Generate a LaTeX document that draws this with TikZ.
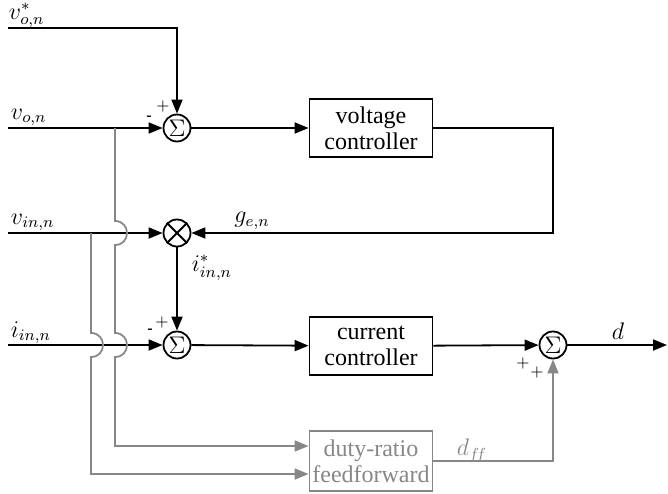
\documentclass[tikz,border=0pt]{standalone}
\usepackage{fontspec}
\setmainfont{Liberation Serif}
\usetikzlibrary{arrows.meta,calc}
\definecolor{ffgray}{RGB}{135,135,135}
\begin{document}
\begin{tikzpicture}[x=0.5pt,y=-0.5pt,
  line width=0.9pt,
  arr/.style={-{Triangle[length=7pt,width=5.5pt]}},
  garr/.style={-{Triangle[length=7pt,width=5.5pt,fill=ffgray]},draw=ffgray},
  blk/.style={draw,align=center,minimum width=61.5pt,minimum height=29pt,inner sep=1pt,font=\fontsize{12}{13}\selectfont},
  sumc/.style={draw,circle,minimum size=13.5pt,inner sep=0pt,font=\large},
  lbl/.style={inner sep=1pt,font=\large},
  sgn/.style={inner sep=0pt,font=\footnotesize}]
\useasboundingbox (0,0) rectangle (668,493);
% nodes
\node[sumc] (s1) at (177,128) {$\Sigma$};
\node[sumc] (mul) at (177,233) {};
\draw (mul.45) -- (mul.225) (mul.135) -- (mul.315);
\node[sumc] (s2) at (177,345) {$\Sigma$};
\node[sumc] (s3) at (553,345) {$\Sigma$};
\node[blk] (vc) at (371,128) {voltage\\controller};
\node[blk] (cc) at (371,346) {current\\controller};
\node[blk,draw=ffgray,text=ffgray,minimum height=30pt] (ff) at (371,461) {duty-ratio\\feedforward};
% inputs
\coordinate (in1) at (8,28);
\coordinate (in2) at (8,128);
\coordinate (in3) at (8,233);
\coordinate (in4) at (8,345);
\coordinate (ret) at (553,233);
\coordinate (out) at (667,345);
\coordinate (b1) at (115,128);
\coordinate (b2) at (91,233);
\node[lbl,inner sep=0pt,anchor=base west] at (8,19) {$v^*_{o,n}$};
\node[lbl,anchor=base west] at (8,119) {$v_{o,n}$};
\node[lbl,anchor=base west] at (8,224) {$v_{in,n}$};
\node[lbl,anchor=base west] at (8,337) {$i_{in,n}$};
% black connectors
\draw[arr] (in1) -| (s1);
\draw[arr] (in2) -- (s1);
\draw[arr] (s1) -- (vc);
\draw[arr] (vc.east) -| (ret) -- (mul);
\draw[arr] (in3) -- (mul);
\draw[arr] (mul) -- (s2);
\node[lbl,anchor=west] at (189,268) {$i^*_{in,n}$};
\draw[arr] (in4) -- (s2);
\draw[arr] (s2) -- (cc);
\draw[arr] (cc) -- (s3);
\draw[arr] (s3) -- (out);
\node[lbl] at (252,221) {$g_{e,n}$};
\node[lbl] at (618,331) {$d$};
% signs
\node[sgn] at (163,106) {$+$};
\node[sgn] at (149,118) {\textbf{-}};
\node[sgn] at (162,322) {$+$};
\node[sgn] at (150,331) {\textbf{-}};
\node[sgn] at (523,363) {$+$};
\node[sgn] at (537,372) {$+$};
% gray feedforward
\draw[garr] (ff.east) -| (s3);
\node[lbl,text=ffgray] at (472,451) {$d_{f\!f}$};
\draw[garr] (b1) -- (115,221) .. controls (131,221) and (131,245) .. (115,245)
  -- (115,333) .. controls (131,333) and (131,357) .. (115,357)
  -- (115,446) -- ($(ff.west)+(0,-15)$);
\draw[garr] (b2) -- (91,333) .. controls (107,333) and (107,357) .. (91,357)
  -- (91,474) -- ($(ff.west)+(0,13)$);
\end{tikzpicture}
\end{document}
